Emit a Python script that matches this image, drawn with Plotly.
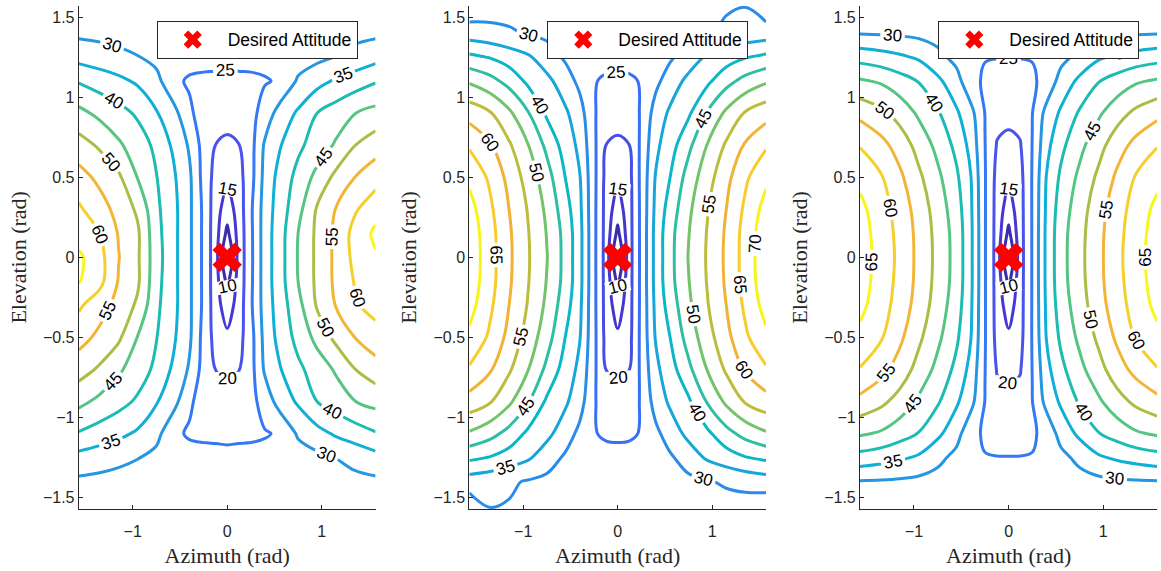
import math
import plotly.graph_objects as go

# Grid of the attitude-error surfaces (azimuth columns, elevation rows), in rad
AZIMUTH = [-1.5708, -1.35, -1.15, -0.95, -0.75, -0.55, -0.4, -0.25, -0.12, 0.0,
           0.12, 0.25, 0.4, 0.55, 0.75, 0.95, 1.15, 1.35, 1.5708]
ELEVATION = [-1.5708, -1.4, -1.25, -1.1, -0.9, -0.7, -0.5, -0.3, -0.15, 0.0,
             0.15, 0.3, 0.5, 0.7, 0.9, 1.1, 1.25, 1.4, 1.5708]

# Error values, one row per elevation (bottom to top)
ERROR_1 = [
    [27.5, 27.5, 27.4, 27.3, 27.2, 27.2, 27.1, 27.1, 27.1, 27.1, 27.1, 27.1, 27.1, 27.2, 27.2, 27.3, 27.4, 27.5, 27.5],
    [29.0, 28.7, 28.3, 28.0, 27.6, 27.3, 27.1, 27.0, 27.0, 27.0, 27.0, 27.0, 27.1, 27.3, 27.6, 28.0, 28.3, 28.7, 29.0],
    [33.3, 32.2, 31.2, 30.2, 28.5, 27.0, 26.2, 26.0, 26.0, 25.9, 26.0, 26.0, 26.2, 26.6, 27.6, 28.8, 30.1, 31.5, 33.3],
    [39.6, 37.8, 36.2, 34.3, 31.6, 25.6, 24.6, 24.4, 24.3, 24.2, 24.3, 24.4, 24.7, 25.4, 30.7, 33.3, 35.7, 37.5, 39.6],
    [46.4, 43.8, 41.7, 39.3, 35.4, 31.2, 25.6, 23.5, 22.3, 21.8, 22.3, 23.5, 27.0, 31.9, 35.7, 40.0, 42.4, 44.9, 46.6],
    [52.1, 49.3, 45.8, 42.5, 38.9, 33.6, 29.4, 23.1, 19.9, 19.1, 19.8, 23.2, 30.8, 34.5, 38.9, 42.3, 45.6, 49.9, 52.8],
    [56.9, 53.8, 50.9, 44.9, 40.2, 35.2, 30.9, 23.3, 18.2, 16.1, 18.2, 23.2, 31.7, 36.4, 41.6, 46.4, 51.3, 55.0, 58.0],
    [60.8, 57.1, 53.4, 49.2, 41.1, 35.8, 31.0, 24.0, 17.2, 12.2, 17.2, 24.2, 32.3, 37.2, 43.4, 50.5, 55.2, 59.4, 61.8],
    [65.3, 61.5, 54.7, 50.9, 41.7, 35.8, 31.0, 24.0, 17.0, 8.8, 16.8, 24.0, 32.5, 37.7, 45.0, 51.0, 56.0, 60.3, 62.5],
    [66.0, 61.7, 55.2, 50.8, 42.1, 35.8, 31.0, 24.0, 17.0, 4.0, 16.7, 23.9, 32.5, 37.7, 45.3, 51.0, 56.1, 61.3, 64.5],
    [62.5, 60.0, 54.7, 50.9, 41.7, 35.8, 31.0, 24.0, 17.0, 8.8, 16.8, 24.0, 32.5, 37.7, 45.0, 51.0, 56.0, 61.7, 66.0],
    [60.8, 57.1, 53.4, 49.2, 41.1, 35.8, 31.0, 24.0, 17.2, 12.2, 17.2, 24.2, 32.3, 37.2, 43.4, 50.5, 55.2, 59.4, 63.1],
    [56.9, 53.8, 50.9, 44.9, 40.2, 35.2, 30.9, 23.3, 18.2, 16.1, 18.2, 23.2, 31.7, 36.4, 41.6, 46.4, 51.3, 55.0, 58.0],
    [52.1, 49.3, 45.8, 42.5, 38.9, 33.6, 29.4, 23.1, 19.9, 19.1, 19.8, 23.2, 30.8, 34.5, 38.9, 42.3, 45.6, 49.9, 52.8],
    [46.4, 43.8, 41.7, 39.3, 35.4, 31.2, 25.6, 23.5, 22.3, 21.8, 22.3, 23.5, 27.0, 31.9, 35.7, 40.0, 42.4, 44.9, 46.6],
    [39.6, 37.8, 36.2, 34.3, 31.6, 25.6, 24.6, 24.4, 24.3, 24.2, 24.3, 24.4, 24.7, 25.4, 30.7, 33.3, 35.7, 37.5, 39.6],
    [33.3, 32.2, 31.2, 30.2, 28.5, 27.0, 26.2, 26.0, 26.0, 25.9, 26.0, 26.0, 26.2, 26.6, 27.6, 28.8, 30.1, 31.5, 33.3],
    [29.0, 28.7, 28.3, 28.0, 27.6, 27.3, 27.1, 27.0, 27.0, 27.0, 27.0, 27.0, 27.1, 27.3, 27.6, 28.0, 28.3, 28.7, 29.0],
    [27.5, 27.5, 27.4, 27.3, 27.2, 27.2, 27.1, 27.1, 27.1, 27.1, 27.1, 27.1, 27.1, 27.2, 27.2, 27.3, 27.4, 27.5, 27.5],
]

ERROR_2 = [
    [26.5, 29.9, 29.6, 29.0, 28.5, 28.1, 27.8, 27.6, 27.5, 27.5, 27.5, 27.6, 27.8, 28.0, 28.0, 28.0, 27.8, 27.5, 26.5],
    [32.4, 31.6, 30.7, 29.6, 28.8, 28.0, 27.5, 27.2, 27.0, 27.0, 27.0, 27.2, 27.5, 28.0, 28.8, 29.6, 30.7, 31.6, 32.4],
    [41.1, 39.7, 37.7, 35.7, 32.4, 29.2, 27.6, 26.5, 26.1, 26.0, 26.1, 26.5, 27.6, 29.2, 32.4, 35.7, 37.7, 39.7, 41.1],
    [49.4, 46.7, 43.3, 39.0, 36.3, 32.3, 28.7, 25.2, 24.5, 24.4, 24.5, 25.2, 28.7, 32.3, 36.3, 39.0, 43.3, 46.7, 49.4],
    [58.0, 55.4, 51.0, 45.4, 39.2, 35.7, 32.0, 25.5, 22.3, 21.8, 22.3, 25.5, 32.0, 35.7, 39.2, 45.4, 51.0, 55.4, 58.0],
    [64.4, 60.5, 55.7, 50.2, 43.8, 37.7, 33.8, 26.0, 19.9, 19.2, 19.9, 26.0, 33.8, 37.7, 43.8, 50.2, 55.7, 60.5, 64.4],
    [68.9, 64.1, 58.5, 53.0, 47.1, 39.8, 35.2, 26.3, 18.4, 16.1, 18.4, 26.3, 35.2, 39.8, 47.1, 53.0, 58.5, 64.1, 68.9],
    [71.9, 65.9, 60.0, 54.7, 49.0, 42.0, 36.0, 26.2, 18.1, 12.2, 18.1, 26.2, 36.0, 42.0, 49.0, 54.7, 60.0, 65.9, 71.9],
    [73.1, 66.8, 60.7, 55.3, 49.8, 43.2, 36.5, 26.2, 18.0, 8.8, 18.0, 26.2, 36.5, 43.2, 49.8, 55.3, 60.7, 66.8, 73.1],
    [73.5, 66.9, 60.9, 55.5, 50.2, 43.3, 36.5, 26.2, 17.9, 4.0, 17.9, 26.2, 36.5, 43.3, 50.2, 55.5, 60.9, 66.9, 73.5],
    [73.1, 66.8, 60.7, 55.3, 49.8, 43.2, 36.5, 26.2, 18.0, 8.8, 18.0, 26.2, 36.5, 43.2, 49.8, 55.3, 60.7, 66.8, 73.1],
    [71.9, 65.9, 60.0, 54.7, 49.0, 42.0, 36.0, 26.2, 18.1, 12.2, 18.1, 26.2, 36.0, 42.0, 49.0, 54.7, 60.0, 65.9, 71.9],
    [68.9, 64.1, 58.5, 53.0, 47.1, 39.8, 35.2, 26.3, 18.4, 16.1, 18.4, 26.3, 35.2, 39.8, 47.1, 53.0, 58.5, 64.1, 68.9],
    [64.4, 60.5, 55.7, 50.2, 43.8, 37.7, 33.8, 26.0, 19.9, 19.2, 19.9, 26.0, 33.8, 37.7, 43.8, 50.2, 55.7, 60.5, 64.4],
    [58.0, 55.4, 51.0, 45.4, 39.2, 35.7, 32.0, 25.5, 22.3, 21.8, 22.3, 25.5, 32.0, 35.7, 39.2, 45.4, 51.0, 55.4, 58.0],
    [49.4, 46.7, 43.3, 39.0, 36.3, 32.3, 28.7, 25.2, 24.5, 24.4, 24.5, 25.2, 28.7, 32.3, 36.3, 39.0, 43.3, 46.7, 49.4],
    [41.1, 39.7, 37.7, 35.7, 32.4, 29.2, 27.6, 26.5, 26.1, 26.0, 26.1, 26.5, 27.6, 29.2, 32.4, 35.7, 37.7, 39.7, 41.1],
    [32.4, 31.6, 30.7, 29.6, 28.8, 28.0, 27.5, 27.2, 27.0, 27.0, 27.0, 27.2, 27.5, 28.0, 28.8, 29.6, 30.7, 31.6, 32.4],
    [26.5, 27.5, 27.8, 28.0, 28.0, 28.0, 27.8, 27.6, 27.5, 27.5, 27.5, 27.6, 27.8, 28.1, 28.5, 29.0, 29.6, 29.9, 26.5],
]

ERROR_3 = [
    [28.0, 28.0, 28.0, 27.8, 27.6, 27.4, 27.2, 27.1, 27.0, 27.0, 27.0, 27.1, 27.2, 27.4, 27.6, 27.8, 28.0, 28.0, 28.0],
    [29.7, 29.5, 29.2, 28.7, 28.0, 27.3, 26.8, 26.4, 26.2, 26.2, 26.2, 26.4, 26.8, 27.3, 28.0, 28.7, 29.2, 29.5, 29.7],
    [38.1, 37.0, 35.8, 34.3, 31.4, 28.5, 26.7, 25.2, 25.1, 25.1, 25.1, 25.2, 26.7, 28.5, 31.4, 34.3, 35.8, 37.0, 38.1],
    [45.7, 44.4, 42.1, 39.8, 36.1, 31.8, 26.5, 24.3, 23.6, 23.4, 23.6, 24.3, 26.5, 31.8, 36.1, 39.8, 42.1, 44.4, 45.7],
    [53.6, 51.2, 48.1, 44.2, 40.6, 35.7, 31.6, 24.9, 21.8, 21.3, 21.8, 24.9, 31.6, 35.7, 40.6, 44.2, 48.1, 51.2, 53.6],
    [59.7, 56.6, 52.9, 48.2, 43.6, 38.7, 33.5, 25.1, 19.6, 18.8, 19.6, 25.1, 33.5, 38.7, 43.6, 48.2, 52.9, 56.6, 59.7],
    [63.7, 60.5, 56.0, 51.0, 46.1, 40.8, 35.2, 25.3, 18.4, 16.1, 18.4, 25.3, 35.2, 40.8, 46.1, 51.0, 56.0, 60.5, 63.7],
    [66.3, 62.3, 57.8, 53.0, 47.7, 42.3, 35.8, 25.3, 18.1, 12.2, 18.1, 25.3, 35.8, 42.3, 47.7, 53.0, 57.8, 62.3, 66.3],
    [67.2, 62.9, 58.5, 53.6, 48.4, 43.0, 36.1, 25.3, 18.0, 8.8, 18.0, 25.3, 36.1, 43.0, 48.4, 53.6, 58.5, 62.9, 67.2],
    [67.5, 63.1, 58.8, 53.7, 48.6, 43.1, 36.1, 25.3, 17.9, 4.0, 17.9, 25.3, 36.1, 43.1, 48.6, 53.7, 58.8, 63.1, 67.5],
    [67.2, 62.9, 58.5, 53.6, 48.4, 43.0, 36.1, 25.3, 18.0, 8.8, 18.0, 25.3, 36.1, 43.0, 48.4, 53.6, 58.5, 62.9, 67.2],
    [66.3, 62.3, 57.8, 53.0, 47.7, 42.3, 35.8, 25.3, 18.1, 12.2, 18.1, 25.3, 35.8, 42.3, 47.7, 53.0, 57.8, 62.3, 66.3],
    [63.7, 60.5, 56.0, 51.0, 46.1, 40.8, 35.2, 25.3, 18.4, 16.1, 18.4, 25.3, 35.2, 40.8, 46.1, 51.0, 56.0, 60.5, 63.7],
    [59.7, 56.6, 52.9, 48.2, 43.6, 38.7, 33.5, 25.1, 19.6, 18.8, 19.6, 25.1, 33.5, 38.7, 43.6, 48.2, 52.9, 56.6, 59.7],
    [53.6, 51.2, 48.1, 44.2, 40.6, 35.7, 31.6, 24.9, 21.8, 21.3, 21.8, 24.9, 31.6, 35.7, 40.6, 44.2, 48.1, 51.2, 53.6],
    [45.7, 44.4, 42.1, 39.8, 36.1, 31.8, 26.5, 24.3, 23.6, 23.4, 23.6, 24.3, 26.5, 31.8, 36.1, 39.8, 42.1, 44.4, 45.7],
    [38.1, 37.0, 35.8, 34.3, 31.4, 28.5, 26.7, 25.2, 25.1, 25.1, 25.1, 25.2, 26.7, 28.5, 31.4, 34.3, 35.8, 37.0, 38.1],
    [29.7, 29.5, 29.2, 28.7, 28.0, 27.3, 26.8, 26.4, 26.2, 26.2, 26.2, 26.4, 26.8, 27.3, 28.0, 28.7, 29.2, 29.5, 29.7],
    [28.0, 28.0, 28.0, 27.8, 27.6, 27.4, 27.2, 27.1, 27.0, 27.0, 27.0, 27.1, 27.2, 27.4, 27.6, 27.8, 28.0, 28.0, 28.0],
]

# Contour levels and the line colour used for each level, per panel
LEVELS = [10, 15, 20, 25, 30, 35, 40, 45, 50, 55, 60, 65, 70]
LEVEL_COLORS_1 = ["#3d2bb0", "#4738d6", "#4852ec", "#3478f4", "#2596e2", "#10afd6",
                  "#1dbcb3", "#56c482", "#a9be44", "#f2b536", "#f5d02c", "#f8f71a"]
LEVEL_COLORS_2 = ["#3d2bae", "#4536d0", "#474ee8", "#386ff4", "#2a8ce8", "#17a5da",
                  "#0bb6c6", "#2ebfa3", "#72c36a", "#bdbc3c", "#f1b238", "#f8cc2b", "#f8f31a"]
LEVEL_COLORS_3 = ["#3d2bb0", "#4738d6", "#4852ec", "#3478f4", "#2596e2", "#10afd6",
                  "#1dbcb3", "#56c482", "#a9be44", "#f2b536", "#f5d02c", "#f8f71a"]

DESIRED_AZ = [0.0]
DESIRED_EL = [0.0]

X_TICKS = [-1, 0, 1]
Y_TICKS = [-1.5, -1, -0.5, 0, 0.5, 1, 1.5]

HALF_PI = math.pi / 2
TEXT = "#262626"

panels = [
    (ERROR_1, LEVEL_COLORS_1, [0.0678, 0.3236], 0.1350),
    (ERROR_2, LEVEL_COLORS_2, [0.4042, 0.6598], 0.4714),
    (ERROR_3, LEVEL_COLORS_3, [0.7407, 0.9968], 0.8082),
]

fig = go.Figure()
layout = dict(
    width=1161, height=571,
    margin=dict(l=0, r=0, t=0, b=0),
    paper_bgcolor="white", plot_bgcolor="white",
    showlegend=True,
)

for i, (z, colors, xdom, legend_x) in enumerate(panels, start=1):
    suffix = "" if i == 1 else str(i)
    top = LEVELS[len(colors) - 1]
    scale = [[(lvl - LEVELS[0]) / (top - LEVELS[0]), c] for lvl, c in zip(LEVELS, colors)]
    fig.add_trace(go.Contour(
        x=AZIMUTH, y=ELEVATION, z=z,
        xaxis="x" + suffix, yaxis="y" + suffix,
        zauto=False, zmin=LEVELS[0], zmax=top,
        colorscale=scale, showscale=False,
        autocontour=False,
        contours=dict(start=LEVELS[0], end=top, size=5, coloring="lines",
                      showlabels=True,
                      labelfont=dict(family="Liberation Sans", size=17, color="black")),
        line=dict(width=3, smoothing=1),
        showlegend=False, hoverinfo="skip",
    ))
    fig.add_trace(go.Scatter(
        x=DESIRED_AZ, y=DESIRED_EL, mode="markers", name="Desired Attitude",
        xaxis="x" + suffix, yaxis="y" + suffix,
        marker=dict(symbol="x", size=26, color="#ff0000", line=dict(width=0)),
        legend="legend" + suffix,
    ))
    layout["xaxis" + suffix] = dict(
        domain=xdom, anchor="y" + suffix, range=[-HALF_PI, HALF_PI],
        tickvals=X_TICKS, ticks="inside", ticklen=4, tickcolor=TEXT,
        showline=True, linecolor=TEXT, linewidth=1, mirror=False,
        showgrid=False, zeroline=False, automargin=False,
        ticklabelstandoff=8,
        tickfont=dict(family="Liberation Sans", size=16, color=TEXT),
        title=dict(text="Azimuth (rad)", standoff=8,
                   font=dict(family="Liberation Serif", size=22, color=TEXT)),
    )
    layout["yaxis" + suffix] = dict(
        domain=[0.1086, 0.990], anchor="x" + suffix, range=[-HALF_PI, HALF_PI],
        tickvals=Y_TICKS, ticks="inside", ticklen=4, tickcolor=TEXT,
        showline=True, linecolor=TEXT, linewidth=1, mirror=False,
        showgrid=False, zeroline=False, automargin=False,
        tickfont=dict(family="Liberation Sans", size=16, color=TEXT),
        title=dict(text="Elevation (rad)", standoff=10,
                   font=dict(family="Liberation Serif", size=22, color=TEXT)),
    )
    layout["legend" + suffix] = dict(
        x=legend_x, y=0.9637, xanchor="left", yanchor="top",
        bgcolor="white", bordercolor=TEXT, borderwidth=1,
        font=dict(family="Liberation Sans", size=17.5, color="black"),
        itemwidth=60,
    )

fig.update_layout(**layout)
fig.write_html("out.html")
